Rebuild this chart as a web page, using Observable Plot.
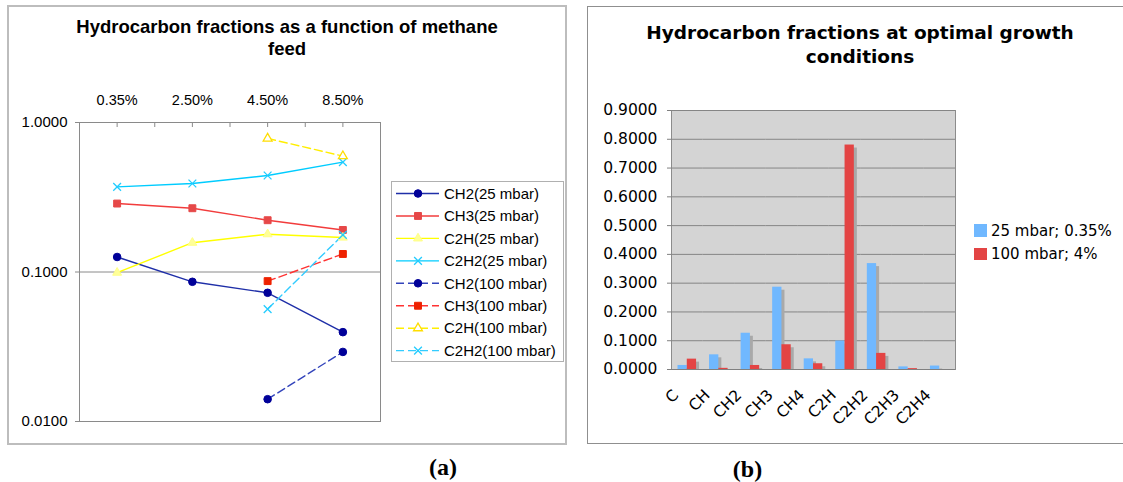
<!DOCTYPE html>
<html>
<head>
<meta charset="utf-8">
<script src="https://cdn.jsdelivr.net/npm/d3@7"></script>
<script src="https://cdn.jsdelivr.net/npm/@observablehq/plot@0.6"></script>
<style>
  body { margin: 0; background: #fff; }
  #root { position: relative; width: 1123px; height: 482px; overflow: hidden; background: #fff; }
  .abs { position: absolute; }
  .frameL { left: 7px; top: 5px; width: 560px; height: 440px; box-sizing: border-box; border: 2px solid #bdbdbd; }
  .frameR { left: 587px; top: 6px; width: 620px; height: 438px; box-sizing: border-box; border: 1px solid #8f8f8f; }
  .titleL { left: 37px; top: 15.5px; width: 500px; text-align: center; font: bold 18.5px/22.7px 'Liberation Sans', Arial, sans-serif; color: #000; }
  .titleR { left: 610px; top: 21px; width: 500px; text-align: center; font: bold 18.5px/24px 'DejaVu Sans', Verdana, sans-serif; color: #000; }
  .panelLabel { font: bold 24px/24px 'Liberation Serif', 'Times New Roman', serif; width: 60px; text-align: center; color: #000; }
  .legL { left: 391px; top: 181px; width: 173px; height: 181px; box-sizing: border-box; border: 1px solid #b0b0b0; background: #fff; }
  .plotBgR { left: 671px; top: 110px; width: 285px; height: 260px; box-sizing: border-box; border: 1px solid #8c8c8c; background: #d4d4d4; }
  .legR { left: 974px; top: 219px; font: 15px 'DejaVu Sans', Verdana, sans-serif; color: #000; }
  .legR div { height: 23.3px; display: flex; align-items: center; white-space: nowrap; }
  .legR span.sw { display: inline-block; width: 12.7px; height: 12.7px; margin-right: 4.3px; }
</style>
</head>
<body>
<div id="root"></div>
<script>
// ---------------- data: panel (a) ----------------
const feeds = ["0.35%", "2.50%", "4.50%", "8.50%"];
const ch2_25   = [0.126, 0.086, 0.0726, 0.0396];
const ch3_25   = [0.287, 0.267, 0.222, 0.191];
const c2h_25   = [0.099, 0.157, 0.179, 0.170];
const c2h2_25  = [0.371, 0.391, 0.442, 0.543];
const ch2_100  = [null, null, 0.0141, 0.0292];
const ch3_100  = [null, null, 0.0869, 0.132];
const c2h_100  = [null, null, 0.782, 0.596];
const c2h2_100 = [null, null, 0.0565, 0.177];
const seriesNames = ["CH2(25 mbar)", "CH3(25 mbar)", "C2H(25 mbar)", "C2H2(25 mbar)",
                     "CH2(100 mbar)", "CH3(100 mbar)", "C2H(100 mbar)", "C2H2(100 mbar)"];
const seriesValues = [ch2_25, ch3_25, c2h_25, c2h2_25, ch2_100, ch3_100, c2h_100, c2h2_100];
const logTicks = [0.01, 0.1, 1];

// ---------------- data: panel (b) ----------------
const species = ["C", "CH", "CH2", "CH3", "CH4", "C2H", "C2H2", "C2H3", "C2H4"];
const frac25  = [0.014, 0.051, 0.126, 0.286, 0.037, 0.099, 0.368, 0.009, 0.012];
const frac100 = [0.036, 0.004, 0.014, 0.086, 0.020, 0.780, 0.056, 0.003, 0.0];
const conditions = ["25 mbar; 0.35%", "100 mbar; 4%"];
const barTicks = [0, 0.1, 0.2, 0.3, 0.4, 0.5, 0.6, 0.7, 0.8, 0.9];

// ---------------- styles ----------------
const styles = [
  {line: "#1f2fa8", dash: null,  symbol: "circle",   r: 3.8, fill: "#000099", stroke: "#000099", sw: 1},
  {line: "#f23c3c", dash: null,  symbol: "square",   r: 3.9, fill: "#e64848", stroke: "#e64848", sw: 1},
  {line: "#ffff00", dash: null,  symbol: "triangle", r: 3.3, fill: "#ffff99", stroke: "#ffff88", sw: 1},
  {line: "#00ccff", dash: null,  symbol: "times",    r: 3.6, fill: "none",    stroke: "#22ccff", sw: 1.3},
  {line: "#3344bb", dash: "8,4", symbol: "circle",   r: 3.8, fill: "#000099", stroke: "#000099", sw: 1},
  {line: "#ff3333", dash: "8,4", symbol: "square",   r: 3.9, fill: "#ee2200", stroke: "#ee2200", sw: 1},
  {line: "#ffee00", dash: "8,4", symbol: "triangle", r: 3.3, fill: "#ffffff", stroke: "#ffdd00", sw: 1.3},
  {line: "#33ccff", dash: "8,4", symbol: "times",    r: 3.6, fill: "none",    stroke: "#22ccff", sw: 1.3}
];
const barColors = ["#70b8ff", "#e34444"];
const d3Symbols = {circle: d3.symbolCircle, square: d3.symbolSquare, triangle: d3.symbolTriangle, times: d3.symbolTimes};

const root = document.getElementById("root");
function addDiv(cls, html) {
  const d = document.createElement("div");
  d.className = "abs " + cls;
  if (html != null) d.innerHTML = html;
  root.appendChild(d);
  return d;
}

// frames and titles
addDiv("frameL");
addDiv("frameR");
addDiv("titleL", "Hydrocarbon fractions as a function of methane<br>feed");
addDiv("titleR", "Hydrocarbon fractions at optimal growth<br>conditions");
const la = addDiv("panelLabel", "(a)"); la.style.left = "413px"; la.style.top = "455px";
const lb = addDiv("panelLabel", "(b)"); lb.style.left = "717.5px"; lb.style.top = "457px";

// ---------------- panel (a): line chart ----------------
const lineRows = [];
seriesNames.forEach((name, si) => {
  seriesValues[si].forEach((v, i) => {
    if (v != null) lineRows.push({series: name, idx: si, feed: feeds[i], pos: i + 0.5, value: v});
  });
});

const lineMarks = [
  Plot.ruleY([0.1], {stroke: "#8a8a8a"}),
  Plot.frame({stroke: "#8a8a8a"})
];
seriesNames.forEach((name, si) => {
  const s = styles[si];
  lineMarks.push(Plot.line(lineRows.filter(d => d.idx === si), {
    x: "pos", y: "value", stroke: s.line, strokeWidth: 1.4, strokeDasharray: s.dash || undefined
  }));
});
seriesNames.forEach((name, si) => {
  const s = styles[si];
  lineMarks.push(Plot.dot(lineRows.filter(d => d.idx === si), {
    x: "pos", y: "value", symbol: s.symbol, r: s.r, fill: s.fill, stroke: s.stroke, strokeWidth: s.sw
  }));
});
lineMarks.push(
  Plot.axisX(d3.range(0, feeds.length * 2 + 1).map(k => k / 2), {
    anchor: "top", tickSize: -4, tickFormat: () => "", stroke: "#8a8a8a", label: null
  }),
  Plot.axisX(feeds.map((f, i) => i + 0.5), {
    anchor: "top", tickSize: 0, tickPadding: 18, fontSize: 14.5, label: null,
    tickFormat: d => feeds[Math.floor(d)]
  }),
  Plot.axisY(logTicks, {
    anchor: "left", tickSize: 4, tickPadding: 8, stroke: "#8a8a8a", fontSize: 15, label: null,
    tickFormat: d3.format(".4f")
  })
);

const plotA = Plot.plot({
  width: 390, height: 445,
  marginLeft: 79, marginRight: 10, marginTop: 122, marginBottom: 24,
  style: {fontFamily: "'Liberation Sans', Arial, sans-serif", fontSize: "15px", color: "#000", background: "transparent", overflow: "visible"},
  x: {type: "linear", domain: [0, feeds.length], label: null},
  y: {type: "log", domain: [0.01, 1], label: null},
  marks: lineMarks
});
const wrapA = addDiv("");
wrapA.style.left = "0px"; wrapA.style.top = "0px";
wrapA.appendChild(plotA);

// legend (a)
const legA = addDiv("legL");
const lsvg = d3.select(legA).append("svg").attr("width", 171).attr("height", 179)
  .style("display", "block").style("overflow", "visible");
seriesNames.forEach((name, i) => {
  const s = styles[i];
  const g = lsvg.append("g").attr("transform", `translate(0,${11.5 + i * 22.45})`);
  g.append("line").attr("x1", 4).attr("x2", 47).attr("y1", 0).attr("y2", 0)
    .attr("stroke", s.line).attr("stroke-width", 1.4).attr("stroke-dasharray", s.dash);
  g.append("path").attr("transform", "translate(26,0)")
    .attr("d", d3.symbol(d3Symbols[s.symbol], Math.PI * s.r * s.r)())
    .attr("fill", s.fill).attr("stroke", s.stroke).attr("stroke-width", s.sw);
  g.append("text").attr("x", 52).attr("dy", "0.35em")
    .style("font", "15px 'Liberation Sans', Arial, sans-serif").attr("fill", "#000").text(name);
});

// ---------------- panel (b): grouped bars ----------------
addDiv("plotBgR");
const barRows = species.flatMap((sp, i) => [
  {species: sp, cond: conditions[0], value: frac25[i]},
  {species: sp, cond: conditions[1], value: frac100[i]}
]);

const plotB = Plot.plot({
  width: 536, height: 445,
  marginLeft: 84, marginRight: 168, marginTop: 110, marginBottom: 76,
  style: {fontFamily: "'DejaVu Sans', Verdana, sans-serif", fontSize: "15.5px", color: "#000", background: "transparent", overflow: "visible"},
  fx: {domain: species, padding: 0, round: false, label: null, axis: null},
  x: {domain: conditions, paddingInner: 0, paddingOuter: 0.7, round: false, axis: null, label: null},
  y: {domain: [0, 0.9], axis: null, label: null},
  color: {domain: conditions, range: barColors},
  marks: [
    Plot.gridY(barTicks, {stroke: "#858585", strokeOpacity: 1}),
    Plot.barY(barRows, {fx: "species", x: "cond", y: "value", fill: "#a9a9a9", dx: 3, dy: 3, insetBottom: 3}),
    Plot.barY(barRows, {fx: "species", x: "cond", y: "value", fill: "cond"}),
    Plot.ruleY([0], {stroke: "#808080"}),
    Plot.axisY(barTicks, {anchor: "left", tickSize: 4, tickPadding: 10, stroke: "#808080", label: null, tickFormat: d3.format(".4f")}),
    Plot.text(species, {fx: d => d, text: d => d, frameAnchor: "bottom", rotate: -45,
      textAnchor: "end", lineAnchor: "middle", dx: -11.5, dy: 23, fontSize: 15.5, fill: "#000"})
  ]
});
const wrapB = addDiv("");
wrapB.style.left = "587px"; wrapB.style.top = "0px";
wrapB.appendChild(plotB);

// legend (b)
const legB = addDiv("legR");
conditions.forEach((c, i) => {
  const row = document.createElement("div");
  const sw = document.createElement("span");
  sw.className = "sw"; sw.style.background = barColors[i];
  row.appendChild(sw);
  row.appendChild(document.createTextNode(c));
  legB.appendChild(row);
});
</script>
</body>
</html>
